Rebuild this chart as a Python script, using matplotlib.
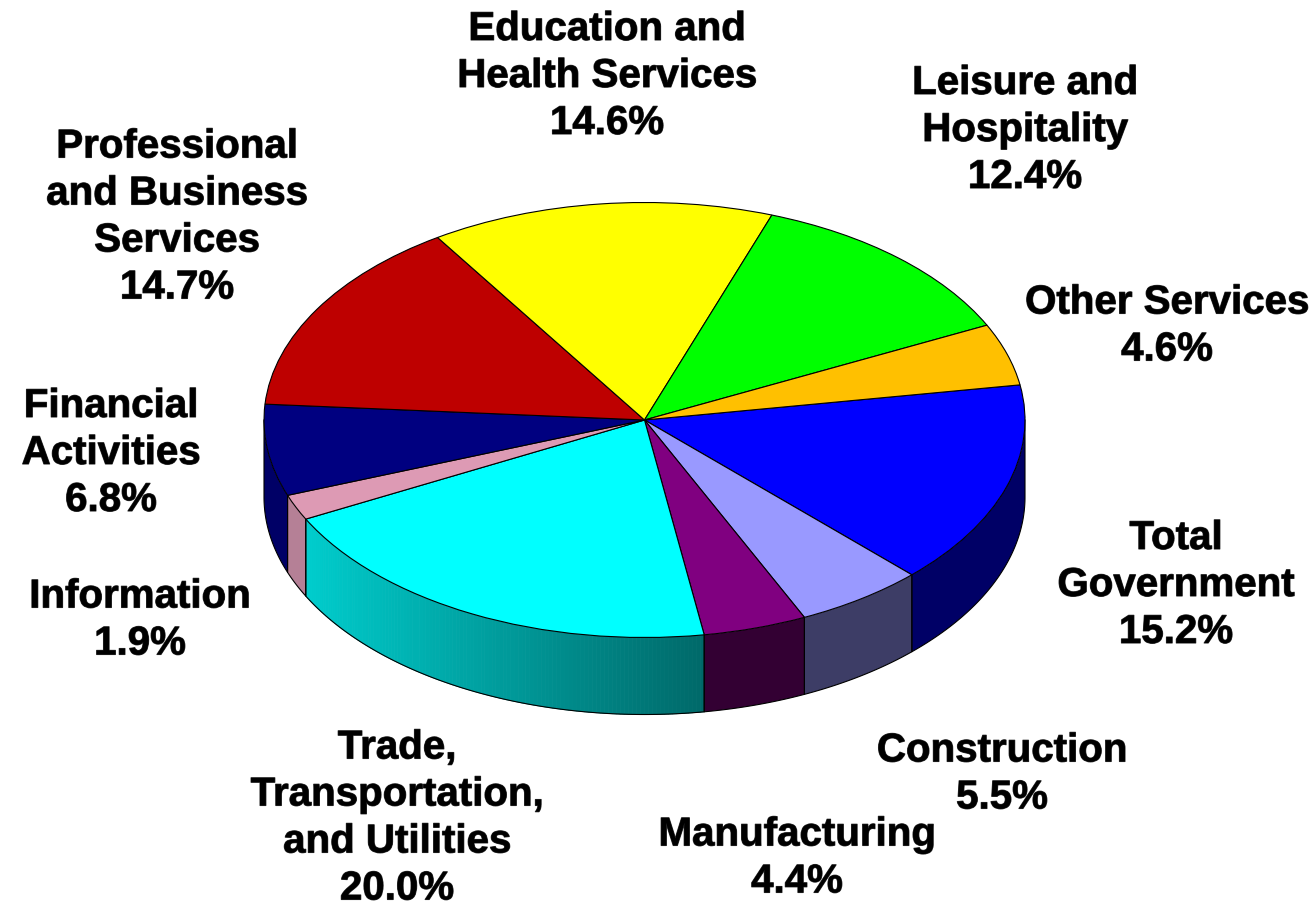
import numpy as np
import matplotlib
matplotlib.use("Agg")
import matplotlib.pyplot as plt
import matplotlib.patheffects as pe

labels = ["Total\nGovernment\n15.2%", "Construction\n5.5%", "Manufacturing\n4.4%",
          "Trade,\nTransportation,\nand Utilities\n20.0%", "Information\n1.9%",
          "Financial\nActivities\n6.8%", "Professional\nand Business\nServices\n14.7%",
          "Education and\nHealth Services\n14.6%", "Leisure and\nHospitality\n12.4%",
          "Other Services\n4.6%"]
values = [15.2, 5.5, 4.4, 20.0, 1.9, 6.8, 14.7, 14.6, 12.4, 4.6]
top_colors = ["#0000FF", "#9999FF", "#800080", "#00FFFF", "#DD9AB4",
              "#000080", "#BE0000", "#FFFF00", "#00FF00", "#FFC000"]
side_colors = ["#000066", "#3D3D66", "#330033", None, "#B58096", "#000066"]
label_x = [1176, 1002, 797, 397, 140, 111, 177, 607, 1025, 1167]
label_y = [585, 774, 858, 818, 620, 453, 217, 76, 130, 326]

W, H = 1315, 901
cx, cy, rx, ry = 644.5, 420, 380.5, 217.5
depth = 77 / ry
start = 9.3

fig = plt.figure(figsize=(W / 100, H / 100), dpi=100)
ax = fig.add_axes([0, 0, 1, 1])

wedges, _ = ax.pie(values, startangle=start, counterclock=False, radius=1, colors=top_colors,
                   wedgeprops={"edgecolor": "black", "linewidth": 0.8, "zorder": 5})
ax.set_aspect("auto")
ax.set_xlim(-cx / rx, (W - cx) / rx)
ax.set_ylim((cy - H) / ry, cy / ry)
ax.axis("off")

# side wall, only the front half of the disc shows
total = sum(values)
a = start
for i, v in enumerate(values):
    b = a - v / total * 360
    lo, hi = max(b, -180), min(a, 0)
    a = b
    if lo >= hi:
        continue
    th = np.radians(np.linspace(hi, lo, 120))
    x, y = np.cos(th), np.sin(th)
    if side_colors[i] is None:
        # the big slice has a shaded front
        for k in range(len(th) - 1):
            f = (x[k] - x.min()) / (x.max() - x.min())
            g = 205 - 100 * f
            ax.fill([x[k], x[k + 1], x[k + 1], x[k]],
                    [y[k], y[k + 1], y[k + 1] - depth, y[k] - depth],
                    color=(0, g / 255, g / 255), lw=0.6, zorder=2)
    else:
        ax.fill(np.r_[x, x[::-1]], np.r_[y, y[::-1] - depth],
                color=side_colors[i], lw=0, zorder=2)
    ax.plot(np.r_[x[0], x[0], x, x[-1], x[-1]],
            np.r_[y[0], y[0] - depth, y - depth, y[-1] - depth, y[-1]],
            color="black", lw=0.8, zorder=3)

for t, lx, ly in zip(labels, label_x, label_y):
    fig.text(lx / W, 1 - ly / H, t, ha="center", va="center", ma="center",
             family="Liberation Sans", weight="bold", fontsize=29, linespacing=1.3,
             color="black", path_effects=[pe.withStroke(linewidth=0.8, foreground="#333333")])

fig.savefig("out.png", dpi=100)
